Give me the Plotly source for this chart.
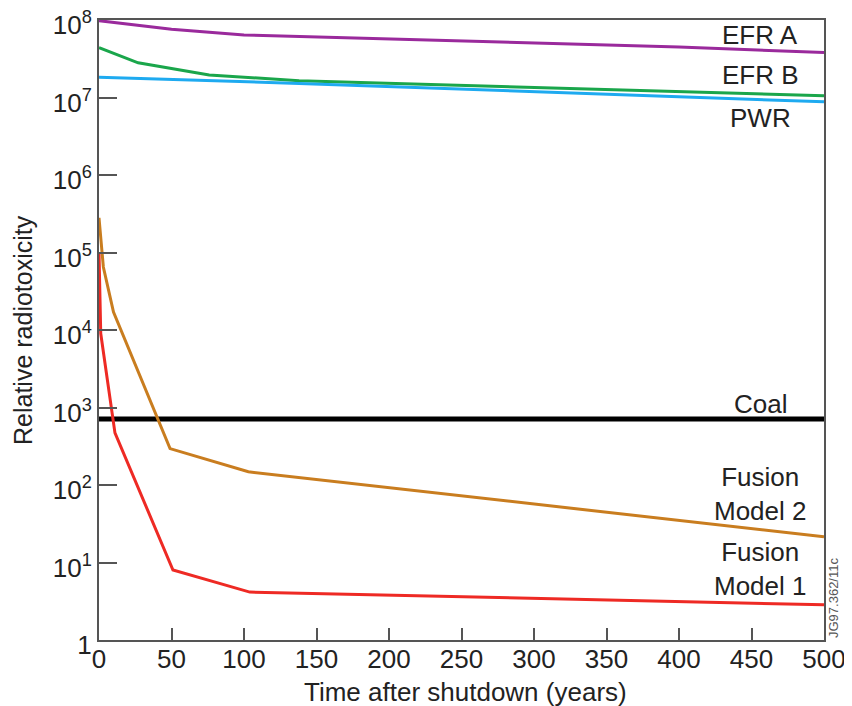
import plotly.graph_objects as go

# ---- data ----
efr_a_years = [0, 50, 100, 200, 300, 400, 500]
efr_a_vals = [9.8e7, 7.6e7, 6.4e7, 5.7e7, 5.1e7, 4.5e7, 3.8e7]

efr_b_years = [0, 27, 76, 138, 500]
efr_b_vals = [4.4e7, 2.8e7, 1.95e7, 1.65e7, 1.05e7]

pwr_years = [0, 138, 500]
pwr_vals = [1.82e7, 1.52e7, 8.8e6]

coal_years = [0, 500]
coal_vals = [710, 710]

fus2_years = [0, 3, 10, 49, 103, 500]
fus2_vals = [2.8e5, 6.5e4, 1.7e4, 295, 148, 21.5]

fus1_years = [0, 1.2, 11, 51, 104, 500]
fus1_vals = [1.0e5, 9.0e3, 470, 8.0, 4.15, 2.85]

ytick_vals = [1, 10, 100, 1e3, 1e4, 1e5, 1e6, 1e7, 1e8]
ytick_text = ["1", "10<sup>1</sup>", "10<sup>2</sup>", "10<sup>3</sup>", "10<sup>4</sup>",
              "10<sup>5</sup>", "10<sup>6</sup>", "10<sup>7</sup>", "10<sup>8</sup>"]
xtick_vals = [0, 50, 100, 150, 200, 250, 300, 350, 400, 450, 500]

labels = ["EFR A", "EFR B", "PWR", "Coal", "Fusion<br>Model 2", "Fusion<br>Model 1"]
label_logy = [7.81, 7.29, 6.74, 3.045, 1.88, 0.92]

series = [
    (efr_a_years, efr_a_vals, "#9a2a9c", 3),
    (efr_b_years, efr_b_vals, "#1aa64b", 3),
    (pwr_years, pwr_vals, "#1eaaf0", 3),
    (coal_years, coal_vals, "#000000", 5),
    (fus2_years, fus2_vals, "#c97d1f", 3),
    (fus1_years, fus1_vals, "#ee2a24", 3),
]

FONT = "Liberation Sans, Arial, sans-serif"

fig = go.Figure()
for xs, ys, col, w in series:
    fig.add_trace(go.Scatter(x=xs, y=ys, mode="lines",
                             line=dict(color=col, width=w),
                             showlegend=False, hoverinfo="skip"))

for txt, ly in zip(labels, label_logy):
    fig.add_annotation(x=456, y=ly, xref="x", yref="y", text=txt,
                       showarrow=False, align="center",
                       font=dict(family=FONT, size=26, color="#222222"))

# axis titles
fig.add_annotation(x=0.505, y=0, xref="paper", yref="paper", yshift=-52,
                   text="Time after shutdown (years)", showarrow=False,
                   xanchor="center", yanchor="middle",
                   font=dict(family=FONT, size=26, color="#222222"))
fig.add_annotation(x=0, y=0.5, xref="paper", yref="paper", xshift=-76,
                   text="Relative radiotoxicity", textangle=-90, showarrow=False,
                   xanchor="center", yanchor="middle",
                   font=dict(family=FONT, size=25, color="#222222"))

fig.add_annotation(x=1.0, y=0.0, xref="paper", yref="paper", xshift=9,
                   text="JG97.362/11c", textangle=-90, showarrow=False,
                   xanchor="center", yanchor="bottom",
                   font=dict(family=FONT, size=13, color="#555555"))

fig.update_xaxes(range=[0, 500], tickvals=xtick_vals, automargin=False,
                 ticks="inside", ticklen=12, tickwidth=2, tickcolor="#555555",
                 ticklabelstandoff=-5, ticklabeloverflow="allow",
                 showline=True, linecolor="#555555", linewidth=2, mirror=True,
                 showgrid=False, zeroline=False,
                 tickfont=dict(family=FONT, size=26, color="#222222"))
fig.update_yaxes(type="log", range=[0, 8], tickvals=ytick_vals, ticktext=ytick_text,
                 automargin=False, ticklabeloverflow="allow", ticklabelshift=5,
                 ticks="inside", ticklen=18, tickwidth=2, tickcolor="#555555",
                 showline=True, linecolor="#555555", linewidth=2, mirror=True,
                 showgrid=False, zeroline=False,
                 tickfont=dict(family=FONT, size=26, color="#222222"))

# page body has an 8px margin: size/offset the figure so the plot box lands where the reference has it
fig.update_layout(width=844, height=698, margin=dict(l=91, r=28, t=12, b=66),
                  paper_bgcolor="white", plot_bgcolor="white",
                  font=dict(family=FONT))

fig.write_html("out.html")
